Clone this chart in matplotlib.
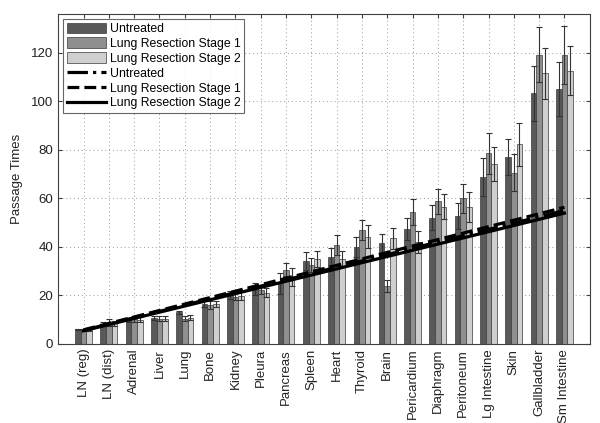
""" Passage times per organ: grouped bars with error bars and linear trends """
import matplotlib
import matplotlib.pyplot as plt
import numpy as np

matplotlib.use("Agg")

plt.rcParams["font.family"] = ["Liberation Sans", "DejaVu Sans"]

ORGANS = ["LN (reg)", "LN (dist)", "Adrenal", "Liver", "Lung", "Bone", "Kidney", "Pleura", "Pancreas",
		  "Spleen", "Heart", "Thyroid", "Brain", "Pericardium", "Diaphragm", "Peritoneum", "Lg Intestine",
		  "Skin", "Gallbladder", "Sm Intestine"]
SERIES = ["Untreated", "Lung Resection Stage 1", "Lung Resection Stage 2"]

untreated = [6.0, 8.1, 9.9, 10.8, 13.0, 16.3, 20.2, 22.5, 25.0, 34.3,
			 35.9, 40.0, 41.4, 47.3, 52.1, 52.7, 68.7, 77.0, 103.3, 105.0]
stage1 = [5.8, 8.8, 10.3, 10.4, 10.3, 16.0, 19.5, 22.2, 30.5, 32.5,
		  40.7, 46.9, 23.9, 54.4, 58.8, 60.0, 78.6, 70.6, 119.2, 119.0]
stage2 = [5.7, 8.5, 9.9, 10.4, 10.8, 16.5, 19.7, 21.1, 27.4, 35.0,
		  35.0, 44.2, 43.5, 42.1, 56.5, 56.4, 74.0, 82.2, 111.5, 112.6]

untreated_err = [0.3, 0.8, 0.8, 0.8, 0.7, 1.2, 1.7, 2.5, 4.3, 3.7,
				 3.5, 4.2, 4.1, 4.4, 5.1, 5.3, 7.8, 7.3, 11.4, 11.0]
stage1_err = [0.3, 1.4, 1.2, 1.0, 1.0, 1.5, 1.5, 1.5, 2.7, 3.0,
			  4.2, 4.1, 2.4, 5.3, 5.2, 6.0, 8.4, 7.7, 11.3, 12.0]
stage2_err = [0.3, 1.0, 1.0, 1.0, 1.0, 1.3, 1.6, 1.8, 3.7, 3.4,
			  3.4, 4.8, 4.4, 4.5, 5.2, 6.1, 7.0, 9.0, 10.5, 10.0]

# linear trends, values at the first and last organ
trend_untreated = [5.6, 55.0]
trend_stage1 = [5.8, 56.3]
trend_stage2 = [5.4, 53.9]

##################################################
bar_colors = ["#595959", "#8f8f8f", "#cfcfcf"]
edge = "#3a3a3a"
x = np.arange(1, len(ORGANS) + 1)
width = 0.222

fig = plt.figure(figsize=(6.0, 4.23), dpi=100)
ax = fig.add_axes([0.097, 0.187, 0.886, 0.78])

handles = []
for i, (vals, errs) in enumerate(zip([untreated, stage1, stage2], [untreated_err, stage1_err, stage2_err])):
	pos = x + (i - 1) * width
	b = ax.bar(pos, vals, width, color=bar_colors[i], edgecolor=edge, linewidth=0.5, label=SERIES[i], zorder=2)
	ax.errorbar(pos, vals, yerr=errs, fmt="none", ecolor="#333333", elinewidth=0.8, capsize=2, capthick=0.8, zorder=3)
	handles.append(b)

ends = [x[0], x[-1]]
l1, = ax.plot(ends, trend_untreated, color="black", linestyle="-.", linewidth=2.3, label=SERIES[0], zorder=4)
l2, = ax.plot(ends, trend_stage1, color="black", linestyle="--", linewidth=2.3, label=SERIES[1], zorder=4)
l3, = ax.plot(ends, trend_stage2, color="black", linestyle="-", linewidth=2.3, label=SERIES[2], zorder=4)
handles += [l1, l2, l3]

ax.set_xlim(0, 21)
ax.set_ylim(0, 136)
ax.set_xticks(x)
ax.set_xticklabels(ORGANS, rotation=90, fontsize=9.5)
ax.set_yticks(np.arange(0, 121, 20))
ax.tick_params(axis="y", labelsize=9.5)
ax.tick_params(direction="in", top=True, right=True, length=3, color="#404040", labelcolor="#222222")
ax.set_ylabel("Passage Times", fontsize=9.5, color="#222222", labelpad=6)
ax.grid(True, linestyle=(0, (1, 3)), color="#9a9a9a", linewidth=0.7, zorder=0)
ax.set_axisbelow(True)
for s in ax.spines.values():
	s.set_color("#404040")
	s.set_linewidth(0.8)

leg = ax.legend(handles=handles, loc="upper left", fontsize=8.8, frameon=True, fancybox=False,
				handlelength=3.2, handleheight=1.0, borderpad=0.3, labelspacing=0.18, handletextpad=0.3,
				borderaxespad=0.4)
leg.get_frame().set_edgecolor("#404040")
leg.get_frame().set_linewidth(0.8)

fig.savefig("out.png", dpi=100)
plt.close(fig)
